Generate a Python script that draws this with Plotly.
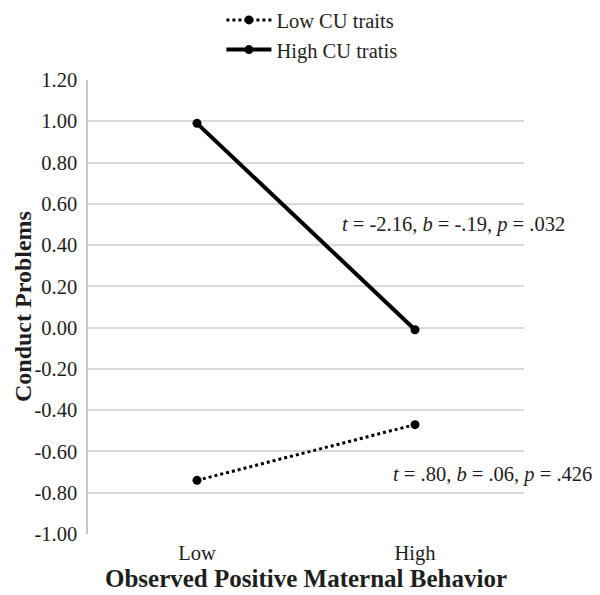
import plotly.graph_objects as go

categories = ["Low", "High"]
low_cu = [-0.74, -0.47]
high_cu = [0.99, -0.01]
y_ticks = [1.2, 1.0, 0.8, 0.6, 0.4, 0.2, 0.0, -0.2, -0.4, -0.6, -0.8, -1.0]
y_ticklabels = ["1.20", "1.00", "0.80", "0.60", "0.40", "0.20", "0.00", "-0.20", "-0.40", "-0.60", "-0.80", "-1.00"]
ann_high = "<i>t</i> = -2.16, <i>b</i> = -.19, <i>p</i> = .032"
ann_low = "<i>t</i> = .80, <i>b</i> = .06, <i>p</i> = .426"
y_title = "<b>Conduct Problems</b>"
x_title = "<b>Observed Positive Maternal Behavior</b>"

FONT = "Liberation Serif, Times New Roman, serif"
TXT = "#1e1e1e"
FS = 20.5

fig = go.Figure()
fig.add_trace(go.Scatter(
    x=[0, 1], y=low_cu, name="Low CU traits", mode="lines+markers", legendgroup="a",
    line=dict(color="black", width=3, dash="dot"),
    marker=dict(color="black", size=9),
))
fig.add_trace(go.Scatter(
    x=[0, 1], y=high_cu, name="High CU tratis", mode="lines+markers", legendgroup="b",
    line=dict(color="black", width=4),
    marker=dict(color="black", size=9),
))

fig.add_annotation(x=0.655, y=0.498, xref="x", yref="y", text=ann_high, xanchor="left",
                   showarrow=False, font=dict(family=FONT, size=FS, color=TXT))
fig.add_annotation(x=0.89, y=-0.713, xref="x", yref="y", text=ann_low, xanchor="left",
                   showarrow=False, font=dict(family=FONT, size=FS, color=TXT))
# y-axis title placed as rotated annotation to sit at the far left
fig.add_annotation(x=0, y=0.5, xref="paper", yref="paper", text=y_title, textangle=-90,
                   xanchor="center", yanchor="middle", xshift=-65, showarrow=False,
                   font=dict(family=FONT, size=24, color=TXT))

fig.update_layout(
    width=600, height=595,
    margin=dict(l=80, r=84, t=72, b=69, autoexpand=False),
    paper_bgcolor="white", plot_bgcolor="white",
    font=dict(family=FONT, size=FS, color=TXT),
    showlegend=True,
    legend=dict(
        x=0.306, y=1.176, xref="paper", yref="paper", xanchor="left", yanchor="top",
        font=dict(family=FONT, size=FS, color=TXT),
        itemwidth=45, tracegroupgap=0, bgcolor="rgba(0,0,0,0)",
    ),
    xaxis=dict(
        range=[-0.5, 1.5], tickvals=[0, 1], ticktext=categories,
        showgrid=False, zeroline=False, showline=False, ticks="",
        automargin=False, ticklabelstandoff=4,
        tickfont=dict(family=FONT, size=FS, color=TXT),
        title=dict(text=x_title,
                   font=dict(family=FONT, size=25, color=TXT), standoff=5),
    ),
    yaxis=dict(
        range=[-1.0, 1.2], tickvals=y_ticks, ticktext=y_ticklabels,
        showgrid=True, gridcolor="#d9d9d9", gridwidth=1.5,
        zeroline=False, showline=True, linecolor="#c8c8c8", linewidth=1.5,
        ticks="", automargin=False, ticklabelstandoff=5,
        tickfont=dict(family=FONT, size=FS, color=TXT),
    ),
)

fig.write_html("out.html")
